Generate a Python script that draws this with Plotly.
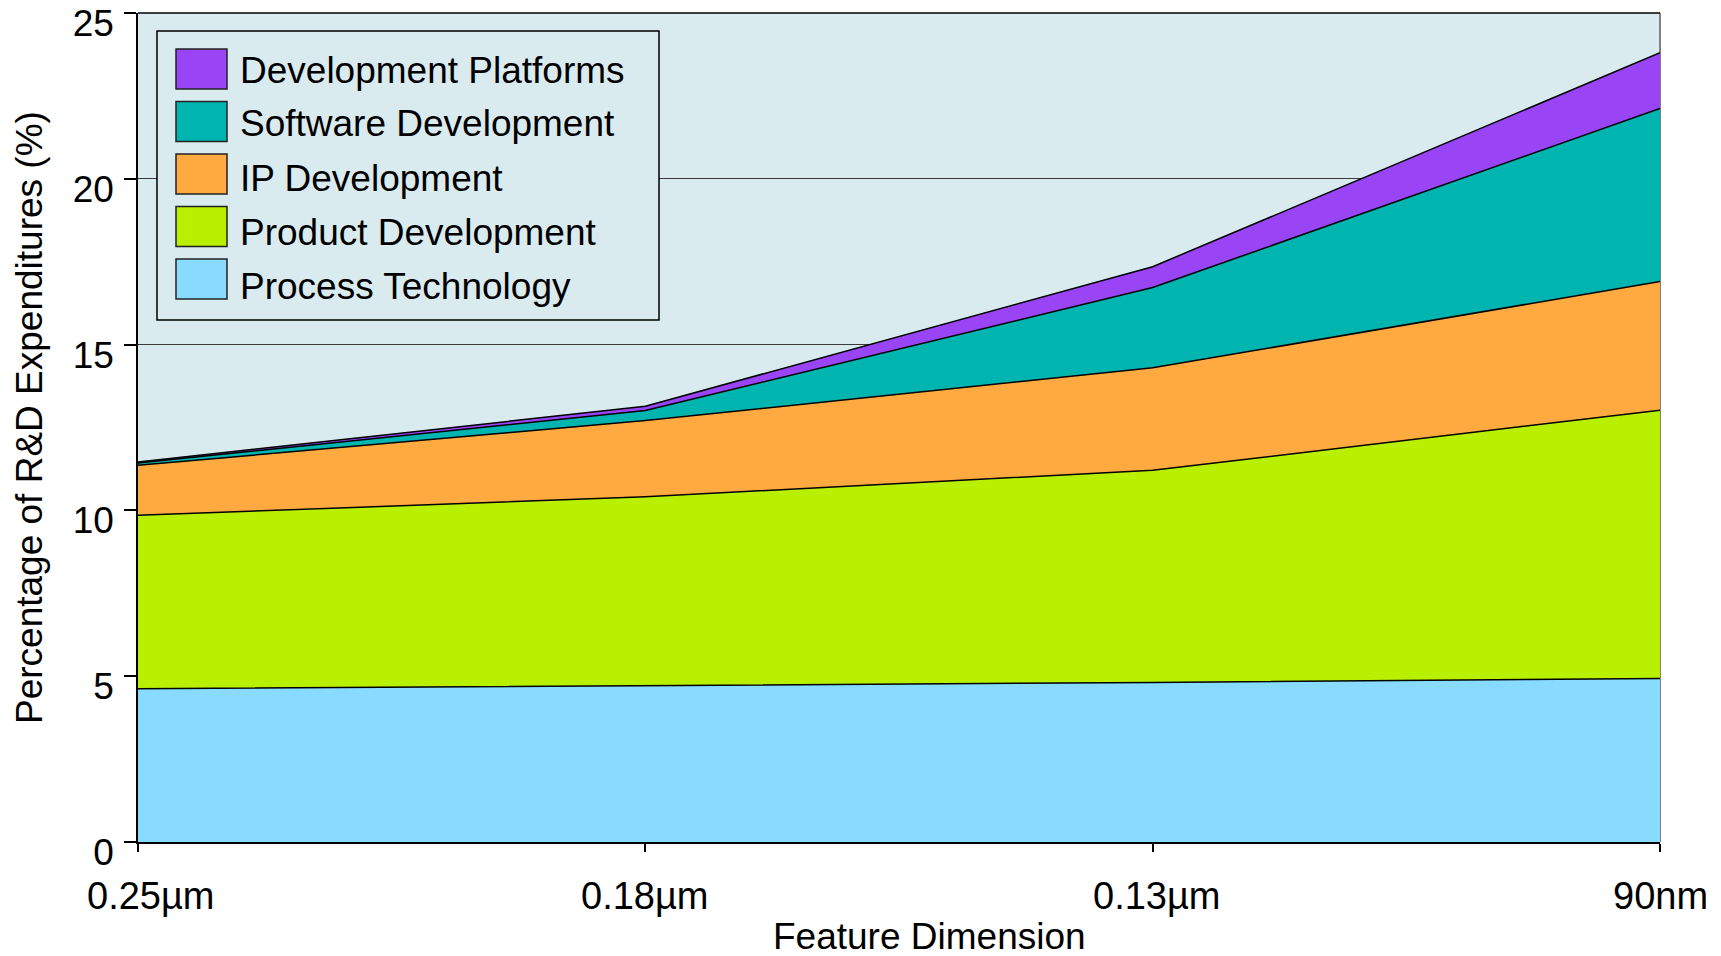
import plotly.graph_objects as go

# Feature dimensions along the x axis
nodes = ["0.25µm", "0.18µm", "0.13µm", "90nm"]

# Share of R&D expenditures (%) per activity, stacked bottom to top
process_technology = [4.62, 4.71, 4.81, 4.93]
product_development = [5.23, 5.70, 6.40, 8.09]
ip_development = [1.51, 2.30, 3.09, 3.88]
software_development = [0.07, 0.30, 2.42, 5.22]
development_platforms = [0.03, 0.13, 0.63, 1.68]

y_ticks = [0, 5, 10, 15, 20, 25]

series = [
    ("Process Technology", process_technology, "#88DAFF"),
    ("Product Development", product_development, "#B9F000"),
    ("IP Development", ip_development, "#FFAA40"),
    ("Software Development", software_development, "#00B4AF"),
    ("Development Platforms", development_platforms, "#9944F5"),
]

FONT = "Liberation Sans, Arial, sans-serif"
x_pos = list(range(len(nodes)))

fig = go.Figure()
for name, vals, color in series:
    fig.add_trace(go.Scatter(
        x=x_pos, y=vals, name=name, mode="lines",
        stackgroup="rd", fillcolor=color,
        line=dict(color="black", width=1.5),
        showlegend=False, hoverinfo="x+y+name",
    ))

W, H = 1721, 956
L, R, T, B = 138, 61, 13, 114


def px_x(px):
    return (px - L) / (W - L - R)


def px_y(py):
    return (H - B - py) / (H - T - B)


fig.update_layout(
    width=W, height=H,
    margin=dict(l=L, r=R, t=T, b=B, autoexpand=False),
    paper_bgcolor="white",
    plot_bgcolor="#DAEBEF",
    font=dict(family=FONT, size=37, color="black"),
    xaxis=dict(
        range=[0, len(nodes) - 1], tickvals=x_pos, ticktext=[""] * len(nodes),
        showgrid=False, zeroline=False, automargin=False,
        showline=True, linecolor="black", linewidth=1.5,
        ticks="outside", ticklen=8, tickcolor="black", tickwidth=1.5,
    ),
    yaxis=dict(
        range=[0, 25], tickvals=y_ticks,
        showgrid=True, gridcolor="#3a3a3a", gridwidth=1,
        zeroline=False, automargin=False,
        showline=True, linecolor="black", linewidth=1.5,
        ticks="outside", ticklen=12, tickcolor="black", tickwidth=1.5,
        ticklabelstandoff=3, ticklabelshift=10,
        ticklabeloverflow="allow",
        tickfont=dict(size=37, family=FONT),
        layer="below traces",
    ),
)

# Category labels under the x axis (the first one nudged clear of the y axis)
label_shift = [13, 0, 4, 0]
for xp, txt, dx in zip(x_pos, nodes, label_shift):
    fig.add_annotation(text=txt, x=xp, xref="x", y=px_y(896), yref="paper",
                       showarrow=False, xshift=dx, xanchor="center", yanchor="middle",
                       font=dict(size=38, family=FONT))

# Plot frame: black top edge, grey right edge
fig.add_shape(type="line", xref="paper", yref="paper", x0=0, x1=1, y0=1, y1=1,
              line=dict(color="black", width=1.5))
fig.add_shape(type="line", xref="paper", yref="paper", x0=1, x1=1, y0=0, y1=1,
              line=dict(color="#808080", width=2), layer="below")

# Axis titles
fig.add_annotation(text="Feature Dimension", xref="paper", yref="paper",
                   x=px_x(929), y=px_y(936),
                   showarrow=False, font=dict(size=37, family=FONT),
                   xanchor="center", yanchor="middle")
fig.add_annotation(text="Percentage of R&D Expenditures (%)", xref="paper", yref="paper",
                   x=px_x(29), y=px_y(418),
                   textangle=-90, showarrow=False, font=dict(size=37, family=FONT),
                   xanchor="center", yanchor="middle")

# Legend box drawn in pixel space
fig.add_shape(type="rect", xref="paper", yref="paper",
              x0=px_x(157), x1=px_x(659), y0=px_y(31), y1=px_y(320),
              line=dict(color="black", width=1.5), fillcolor="#DAEBEF")

for i, (name, vals, color) in enumerate(reversed(series)):
    cy = 69 + i * 52.5
    ty = 70 + i * 54
    fig.add_shape(type="rect", xref="paper", yref="paper",
                  x0=px_x(176), x1=px_x(227), y0=px_y(cy - 20), y1=px_y(cy + 20),
                  line=dict(color="#222222", width=1.5), fillcolor=color)
    fig.add_annotation(text=name, xref="paper", yref="paper",
                       x=px_x(238), y=px_y(ty), showarrow=False,
                       xanchor="left", yanchor="middle",
                       font=dict(size=37, family=FONT))

fig.write_html("out.html")
